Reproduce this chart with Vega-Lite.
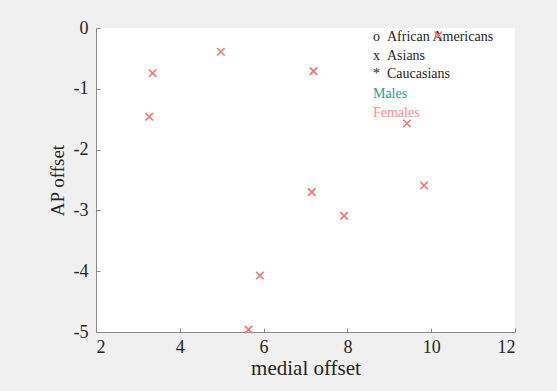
{
  "$schema": "https://vega.github.io/schema/vega-lite/v6.json",
  "width": 419,
  "height": 304,
  "autosize": "none",
  "padding": {"left": 96, "top": 28, "right": 42, "bottom": 59},
  "background": "#f0f0f0",
  "config": {
    "view": {"fill": "white", "stroke": null},
    "font": "Liberation Serif",
    "axis": {
      "grid": false,
      "domainColor": "#8a8a8a",
      "tickColor": "#8a8a8a",
      "tickSize": -4,
      "labelFont": "Liberation Serif",
      "labelFontSize": 18,
      "labelColor": "#262626",
      "titleFont": "Liberation Serif",
      "titleFontWeight": "normal",
      "titleColor": "#262626"
    }
  },
  "datasets": {
    "points": [
      {"medial": 3.35, "ap": -0.745, "group": "Females"},
      {"medial": 3.27, "ap": -1.46, "group": "Females"},
      {"medial": 4.98, "ap": -0.39, "group": "Females"},
      {"medial": 7.19, "ap": -0.71, "group": "Females"},
      {"medial": 7.15, "ap": -2.70, "group": "Females"},
      {"medial": 7.92, "ap": -3.09, "group": "Females"},
      {"medial": 5.91, "ap": -4.07, "group": "Females"},
      {"medial": 5.64, "ap": -4.96, "group": "Females"},
      {"medial": 9.42, "ap": -1.57, "group": "Females"},
      {"medial": 9.83, "ap": -2.59, "group": "Females"},
      {"medial": 10.17, "ap": -0.12, "group": "Females"}
    ],
    "legend": [
      {"medial": 8.61, "ap": -0.15, "label": "o\u00a0\u00a0African Americans", "kind": "dark"},
      {"medial": 8.61, "ap": -0.46, "label": "x\u00a0\u00a0Asians", "kind": "dark"},
      {"medial": 8.61, "ap": -0.76, "label": "*\u00a0\u00a0Caucasians", "kind": "dark"},
      {"medial": 8.61, "ap": -1.09, "label": "Males", "kind": "Males"},
      {"medial": 8.61, "ap": -1.40, "label": "Females", "kind": "Females"}
    ]
  },
  "layer": [
    {
      "data": {"name": "legend"},
      "mark": {"type": "text", "align": "left", "baseline": "middle", "fontSize": 14, "font": "Liberation Serif"},
      "encoding": {
        "x": {"field": "medial", "type": "quantitative"},
        "y": {"field": "ap", "type": "quantitative"},
        "text": {"field": "label"},
        "color": {
          "field": "kind",
          "type": "nominal",
          "scale": {"domain": ["dark", "Males", "Females"], "range": ["#262626", "#2a9d9a", "#ff8c8c"]},
          "legend": null
        }
      }
    },
    {
      "data": {"name": "points"},
      "mark": {"type": "point", "shape": "M-1,-1L1,1M-1,1L1,-1", "filled": false, "size": 56, "strokeWidth": 1.6, "color": "#ff7070", "opacity": 1},
      "encoding": {
        "x": {
          "field": "medial", "type": "quantitative",
          "scale": {"domain": [2, 12], "nice": false, "zero": false},
          "axis": {"values": [2, 4, 6, 8, 10, 12], "title": "medial offset", "titleFontSize": 21, "labelPadding": 10, "titlePadding": 1}
        },
        "y": {
          "field": "ap", "type": "quantitative",
          "scale": {"domain": [-5, 0], "nice": false, "zero": false},
          "axis": {"values": [-5, -4, -3, -2, -1, 0], "labelExpr": "toString(datum.value)", "title": "AP offset", "titleFontSize": 19, "labelPadding": 12, "titlePadding": 6}
        }
      }
    }
  ]
}
